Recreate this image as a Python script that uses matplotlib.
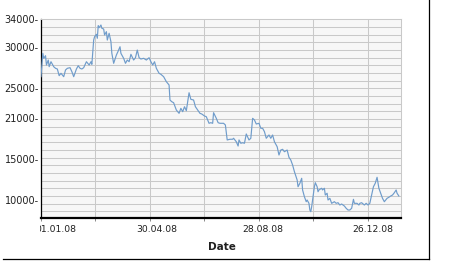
import numpy as np
import matplotlib
matplotlib.use("Agg")
import matplotlib.pyplot as plt
from matplotlib.transforms import Bbox, TransformedBbox, ScaledTranslation
from matplotlib.lines import Line2D

# index level, days counted from 01.01.08
day_offsets = [
    0, 2, 3, 5, 6, 8, 9, 11, 14, 16, 18, 20, 22, 25, 27, 29, 32, 34, 36, 39,
    41, 43, 45, 47, 50, 53, 55, 56, 58, 59, 61, 62, 63, 64, 66, 67, 69, 70, 72, 73,
    75, 77, 78, 80, 82, 83, 85, 87, 88, 91, 93, 95, 97, 99, 102, 104, 106, 108, 110, 113,
    116, 119, 121, 123, 125, 127, 130, 132, 135, 138,
    141, 142, 144, 146, 149, 152, 154, 156, 158, 160, 163, 165, 168, 170, 173, 175, 177, 180, 182, 185,
    187, 189, 190, 193, 195, 197, 201, 203, 205, 208, 211, 212, 215, 217, 218, 220, 222, 224, 226, 229,
    231, 233, 235, 237, 240, 242, 244, 246, 248, 251, 253, 255, 257, 260, 262, 264, 266, 268, 271, 273,
    275, 277, 279, 282, 283, 285, 287, 288, 290, 292, 293, 295, 296,
    297, 298, 301, 302, 304, 305, 306, 309, 310, 312, 313, 315, 316, 318, 320, 323, 325, 327, 329, 331,
    334, 336, 338, 340, 342, 344, 345, 348, 350, 351, 353, 356, 358, 360, 362, 364, 366, 368, 370, 372,
    374, 376, 378, 381, 383, 385, 387, 389, 391, 392, 394,
]
index_values = [
    26530, 29570, 28920, 29260, 28050, 28700, 27830, 28480, 27830, 27620,
    27530, 26660, 26970, 26530, 27400, 27620, 27700, 27180, 26530, 27530,
    27960, 27620, 27530, 27700, 28480, 28050, 28480, 28140, 31300, 31730,
    32050, 31530, 33170, 32910, 33260, 32830, 32740, 31960, 32390, 31300,
    32180, 31080, 29570, 28270, 29000, 29350, 29870, 30430, 29570, 28920,
    28270, 28700, 28480, 29440, 28700, 29000, 30000, 29000, 28830, 28920,
    28700, 29000, 28480, 28050, 28480, 27620, 26970, 26840, 26530, 25880,
    25450, 23490, 23270, 23140, 22190, 21760, 22410, 21970, 22620, 22100,
    24440, 23580, 23490, 22620, 22100, 21760, 21670, 21410, 21320, 20460,
    20540, 20460, 21840, 21110, 20540, 20460, 20460, 20240, 18290, 18380,
    18380, 18510, 18060, 17500, 18290, 17860, 17930, 17860, 19070, 18290,
    18510, 21110, 20890, 20370, 20460, 19810, 19810, 19370, 18510, 18940,
    18510, 18940, 18060, 17410, 16330, 16980, 17070, 16760, 16980, 16030,
    15680, 15030, 14160, 13080, 12200, 12650, 13300, 11780, 10900, 10250,
    10470, 10040, 9170,
    8950, 9600, 12200, 12730, 12200, 11550, 11780, 12000, 11780, 12000,
    11120, 11350, 10470, 10690, 10040, 10250, 10040, 10120, 9820, 9950,
    9690, 9390, 9170, 9170, 9390, 10560, 10040, 10040, 9820, 10040,
    10120, 9820, 10040, 9820, 10040, 11120, 12200, 12650, 13430, 12000,
    11350, 10690, 10250, 10690, 10830, 10990, 11120, 11420, 11780, 11350,
    10990,
]

ytick_values = [34000, 30430, 25020, 21190, 15810, 10470]
ytick_labels = ["34000-", "30000-", "25000-", "21000-", "15000-", "10000-"]
xtick_dates = ["2008-01-01", "2008-03-01", "2008-04-30", "2008-06-29",
               "2008-08-28", "2008-10-27", "2008-12-26"]
xtick_labels = ["01.01.08", "", "30.04.08", "", "28.08.08", "", "26.12.08"]

start = np.datetime64("2008-01-01")
dates = start + np.array(day_offsets).astype("timedelta64[D]")

fig = plt.figure(figsize=(4.56, 2.61), dpi=100)
fig.set_facecolor("white")
ax = fig.add_axes([0.0899, 0.1648, 0.7888, 0.7612])
ax.set_facecolor("#f7f7f7")

ax.plot(dates, index_values, color="#6f9ccb", lw=0.85, zorder=3)

ax.set_xlim(start, start + np.timedelta64(396, "D"))
ax.set_ylim(8130, 34000)

# grid: every 1000 points and every 60 days
ax.set_yticks(np.arange(9000, 34001, 1000), minor=True)
ax.set_yticks(ytick_values)
ax.set_yticklabels(ytick_labels)
ax.grid(True, which="minor", axis="y", color="#c9c9c9", lw=0.75)
ax.tick_params(axis="y", which="both", length=0, pad=1.6, labelsize=7, labelcolor="#202020")

xt = [np.datetime64(d) for d in xtick_dates]
ax.set_xticks(xt)
ax.set_xticklabels(xtick_labels)
ax.grid(True, which="major", axis="x", color="#c9c9c9", lw=0.75)
ax.tick_params(axis="x", length=2.5, width=0.7, color="#888888", pad=2.2,
               labelsize=6.7, labelcolor="#202020")

for sp in ["top", "right"]:
    ax.spines[sp].set_color("#c9c9c9")
    ax.spines[sp].set_linewidth(0.75)
ax.spines["left"].set_color("black")
ax.spines["left"].set_linewidth(0.9)
ax.spines["bottom"].set_color("black")
ax.spines["bottom"].set_linewidth(1.6)

# label shifts in pixels as in the original (first one cut at the axis)
shifts = [15, 0, 7, 0, 4, 0, 5]
for lab, dx in zip(ax.get_xticklabels(), shifts):
    lab.set_transform(lab.get_transform() + ScaledTranslation(dx / 100, 0, fig.dpi_scale_trans))
clip = TransformedBbox(Bbox([[40.5 / 456, 0], [1, 1]]), fig.transFigure)
first = ax.get_xticklabels()[0]
first.set_clip_on(True)
first.set_clip_box(clip)

fig.text(222 / 456, 1 - 247.5 / 261, "Date", ha="center", va="center",
         fontsize=7.5, fontweight="bold", color="#202020")

# panel border (right and bottom)
fig.add_artist(Line2D([429.3 / 456, 429.3 / 456], [1, 1 - 259 / 261],
                      transform=fig.transFigure, color="black", lw=0.9))
fig.add_artist(Line2D([3 / 456, 429.3 / 456], [1 - 259 / 261, 1 - 259 / 261],
                      transform=fig.transFigure, color="black", lw=0.9))

fig.savefig("out.png", dpi=100, facecolor="white")
